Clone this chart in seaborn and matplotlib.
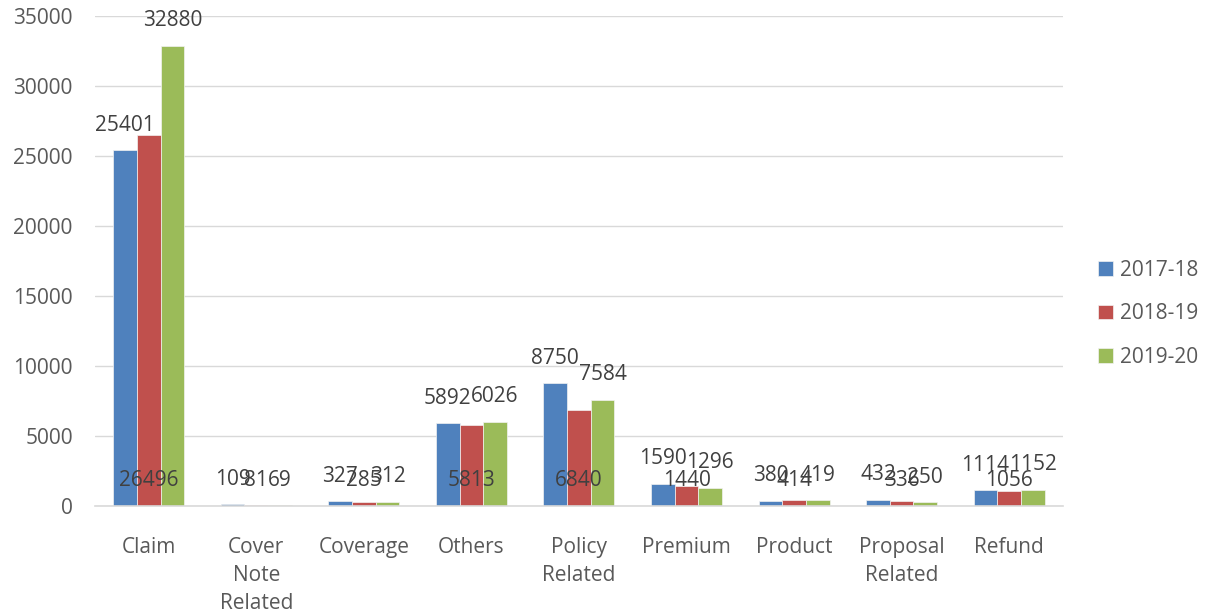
import pandas as pd
import seaborn as sns
import matplotlib.pyplot as plt

categories = ["Claim", "Cover\nNote\nRelated", "Coverage", "Others", "Policy\nRelated",
              "Premium", "Product", "Proposal\nRelated", "Refund"]
years = ["2017-18", "2018-19", "2019-20"]
v_2017 = [25401, 109, 327, 5892, 8750, 1590, 380, 432, 1114]
v_2018 = [26496, 81, 285, 5813, 6840, 1440, 414, 336, 1056]
v_2019 = [32880, 69, 312, 6026, 7584, 1296, 419, 250, 1152]
colors = ["#4F81BD", "#C0504D", "#9BBB59"]

rows = []
for yr, vals in zip(years, [v_2017, v_2018, v_2019]):
    for c, v in zip(categories, vals):
        rows.append({"category": c, "year": yr, "value": v})
df = pd.DataFrame(rows)

sns.set_style("white")
plt.rcParams["font.family"] = ["Open Sans", "DejaVu Sans"]

fig = plt.figure(figsize=(12.13, 6.13), dpi=100)
ax = fig.add_axes([0.0783, 0.1746, 0.798, 0.7993])

sns.barplot(data=df, x="category", y="value", hue="year", palette=colors,
            width=0.66, gap=0, ax=ax, saturation=1, errorbar=None, legend=True,
            edgecolor="#F2F2F2", linewidth=0.5)

ax.set_ylim(0, 35000)
ax.set_yticks(range(0, 35001, 5000))
ax.yaxis.grid(True, color="#D9D9D9", linewidth=1)
ax.set_axisbelow(True)
for s in ["top", "right", "left"]:
    ax.spines[s].set_visible(False)
ax.spines["bottom"].set_color("#D9D9D9")
ax.spines["bottom"].set_linewidth(1.2)
ax.set_xlabel("")
ax.set_ylabel("")
ax.tick_params(axis="both", length=0, labelsize=15, labelcolor="#595959")
ax.tick_params(axis="x", pad=22)
ax.tick_params(axis="y", pad=16)
for lbl in ax.get_xticklabels():
    lbl.set_verticalalignment("top")
    lbl.set_linespacing(1.45)

# data labels: 2018-19 labels sit near the base, others above the bars
for i, cont in enumerate(ax.containers):
    for bar in cont:
        x = bar.get_x() + bar.get_width() / 2
        h = bar.get_height()
        y = 0 if i == 1 else h
        ax.annotate(f"{int(round(h))}", xy=(x, y), xytext=(0, 18), textcoords="offset points",
                    ha="center", va="center", fontsize=15, color="#404040")

handles, labels = ax.get_legend_handles_labels()
ax.legend(handles, labels, loc="center left", bbox_to_anchor=(0.89, 0.488),
          bbox_transform=fig.transFigure, frameon=False, fontsize=15,
          handlelength=0.7, handleheight=0.7, handletextpad=0.35, labelspacing=1.08,
          labelcolor="#595959")

fig.savefig("out.png", dpi=100)
